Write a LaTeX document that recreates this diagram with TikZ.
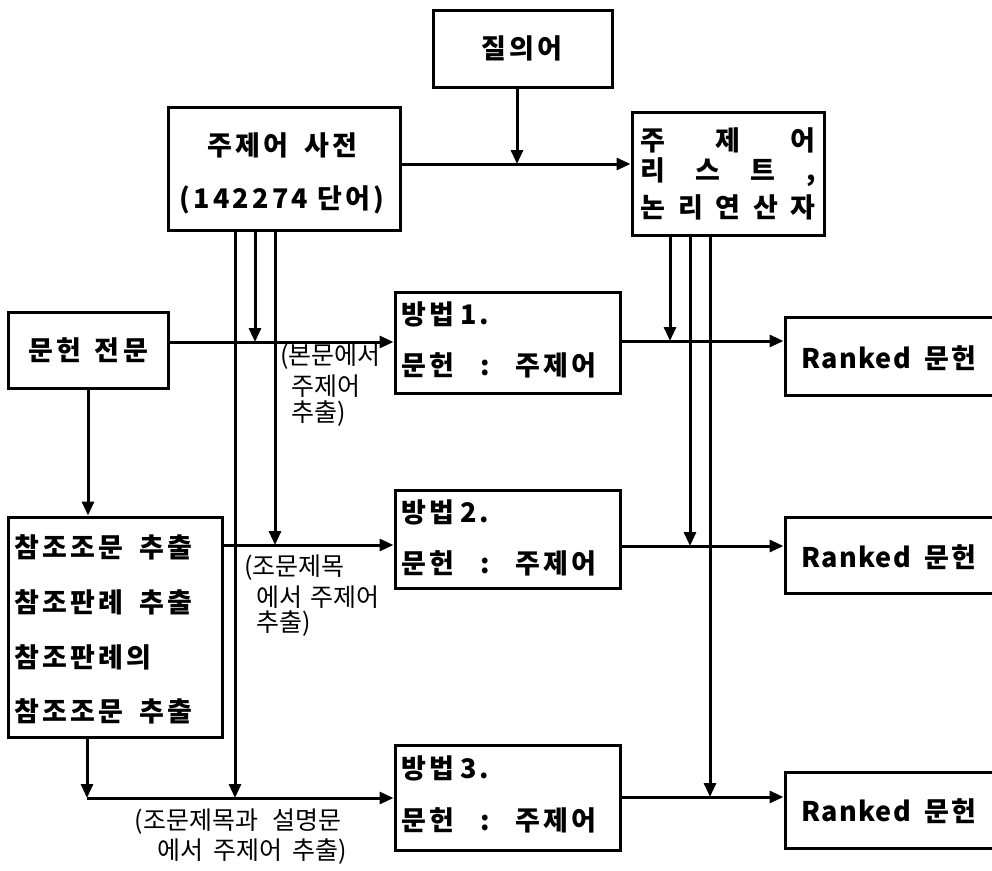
\documentclass[tikz,border=0pt]{standalone}
\usepackage{fontspec}
\setmainfont{Noto Sans CJK KR}
\newfontfamily\bx{Noto Sans CJK KR}[LetterSpace=12]
\newfontfamily\bxr{Noto Sans CJK KR}[LetterSpace=5]
\usetikzlibrary{arrows.meta}
\tikzset{
  box/.style={draw, line width=3pt, inner sep=0pt},
  btxt/.style={font=\bx\bfseries\fontsize{27}{31}\selectfont, inner sep=0pt},
  rtxt/.style={font=\bxr\bfseries\fontsize{27}{31}\selectfont, inner sep=0pt},
  ltxt/.style={font=\fontsize{25}{29}\selectfont, inner sep=0pt},
  arr/.style={line width=3pt, -{Triangle[length=14pt,width=12pt]}},
}
\begin{document}
\begin{tikzpicture}[x=1pt,y=-1pt]
\fill[white] (0,0) rectangle (992,870);
\useasboundingbox (0,0) rectangle (992,870);
% boxes
\node[box, minimum width=179pt, minimum height=77pt] (q) at (522.5,48.5) {};
\node[box, minimum width=232pt, minimum height=123pt] (dict) at (284,168.5) {};
\node[box, minimum width=192pt, minimum height=123pt] (list) at (728,173.5) {};
\node[box, minimum width=160pt, minimum height=76pt] (doc) at (88,350) {};
\node[box, minimum width=214pt, minimum height=220pt] (ref) at (115,627) {};
\node[box, minimum width=225pt, minimum height=101pt] (m1) at (507.5,342.5) {};
\node[box, minimum width=225pt, minimum height=98pt] (m2) at (507.5,539) {};
\node[box, minimum width=225pt, minimum height=105pt] (m3) at (507.5,797.5) {};
\node[box, minimum width=208pt, minimum height=78pt] (r1) at (889,356) {};
\node[box, minimum width=208pt, minimum height=76pt] (r2) at (889,555) {};
\node[box, minimum width=208pt, minimum height=76pt] (r3) at (889,810) {};
% box texts
\node[btxt] (tq) at (522,48) {질의어};
\node[btxt] (td1) at (282,145) {주제어\hspace{16pt}사전};
\node[btxt] (td2) at (282,200) {(142274 단어)};
\node[btxt] (tl1) at (728,140) {\makebox[175pt][l]{주\hfill 제\hfill 어}};
\node[btxt] (tl2) at (728,172) {\makebox[175pt][l]{리\hfill 스\hfill 트\hfill ,}};
\node[btxt] (tl3) at (728,207) {\makebox[175pt][l]{논\hfill 리\hfill 연\hfill 산\hfill 자}};
\node[btxt] (tdoc) at (88,350) {문헌\hspace{14pt}전문};
\node[btxt, anchor=west] (tr1) at (14,547) {참조조문\hspace{16pt}추출};
\node[btxt, anchor=west] (tr2) at (14,602) {참조판례\hspace{16pt}추출};
\node[btxt, anchor=west] (tr3) at (14,657) {참조판례의};
\node[btxt, anchor=west] (tr4) at (14,711) {참조조문\hspace{16pt}추출};
\node[btxt, anchor=west] (tm1a) at (401,314) {방법\hspace{6pt}1.};
\node[btxt, anchor=west] (tm1b) at (401,365) {문헌\hspace{26pt}:\hspace{26pt}주제어};
\node[btxt, anchor=west] (tm2a) at (401,512) {방법\hspace{6pt}2.};
\node[btxt, anchor=west] (tm2b) at (401,563) {문헌\hspace{26pt}:\hspace{26pt}주제어};
\node[btxt, anchor=west] (tm3a) at (401,768) {방법\hspace{6pt}3.};
\node[btxt, anchor=west] (tm3b) at (401,820) {문헌\hspace{26pt}:\hspace{26pt}주제어};
\node[rtxt, anchor=west] (tk1) at (801,358) {Ranked\hspace{14pt}문헌};
\node[rtxt, anchor=west] (tk2) at (801,557) {Ranked\hspace{14pt}문헌};
\node[rtxt, anchor=west] (tk3) at (801,811) {Ranked\hspace{14pt}문헌};
% labels
\node[ltxt, anchor=west] (la1) at (280,357) {(본문에서};
\node[ltxt, anchor=west] (la2) at (291,386) {주제어};
\node[ltxt, anchor=west] (la3) at (291,414) {추출)};
\node[ltxt, anchor=west] (lb1) at (244,568) {(조문제목};
\node[ltxt, anchor=west] (lb2) at (256,597) {에서\hspace{8pt}주제어};
\node[ltxt, anchor=west] (lb3) at (256,624) {추출)};
\node[ltxt] (lc1) at (238,822) {(조문제목과\hspace{14pt}설명문};
\node[ltxt] (lc2) at (252,852) {에서\hspace{10pt}주제어\hspace{10pt}추출)};
% junction coordinates
\coordinate (j0) at (517,164);
\coordinate (y1) at (0,342);
\coordinate (y2) at (0,545);
\coordinate (c3) at (87,798);
\coordinate (v1) at (255,342);
\coordinate (v2) at (275,545);
\coordinate (v3) at (235,798);
\coordinate (w1) at (670,341);
\coordinate (w2) at (690,546);
\coordinate (w3) at (710,797);
% connectors
\draw[arr] (q.south -| j0) -- (j0);
\draw[arr] (dict.east |- j0) -- (list.west |- j0);
\draw[arr] (dict.south -| v1) -- (v1);
\draw[arr] (dict.south -| v2) -- (v2);
\draw[arr] (dict.south -| v3) -- (v3);
\draw[arr] (list.south -| w1) -- (w1);
\draw[arr] (list.south -| w2) -- (w2);
\draw[arr] (list.south -| w3) -- (w3);
\draw[arr] (doc.east |- y1) -- (m1.west |- y1);
\draw[arr] (doc.south) -- (ref.north -| doc.south);
\draw[arr] (ref.east |- y2) -- (m2.west |- y2);
\draw[arr] (ref.south -| c3) -- (c3);
\draw[arr] (c3) -- (m3.west |- c3);
\draw[arr] (m1.east |- w1) -- (r1.west |- w1);
\draw[arr] (m2.east |- w2) -- (r2.west |- w2);
\draw[arr] (m3.east |- w3) -- (r3.west |- w3);
\end{tikzpicture}
\end{document}
